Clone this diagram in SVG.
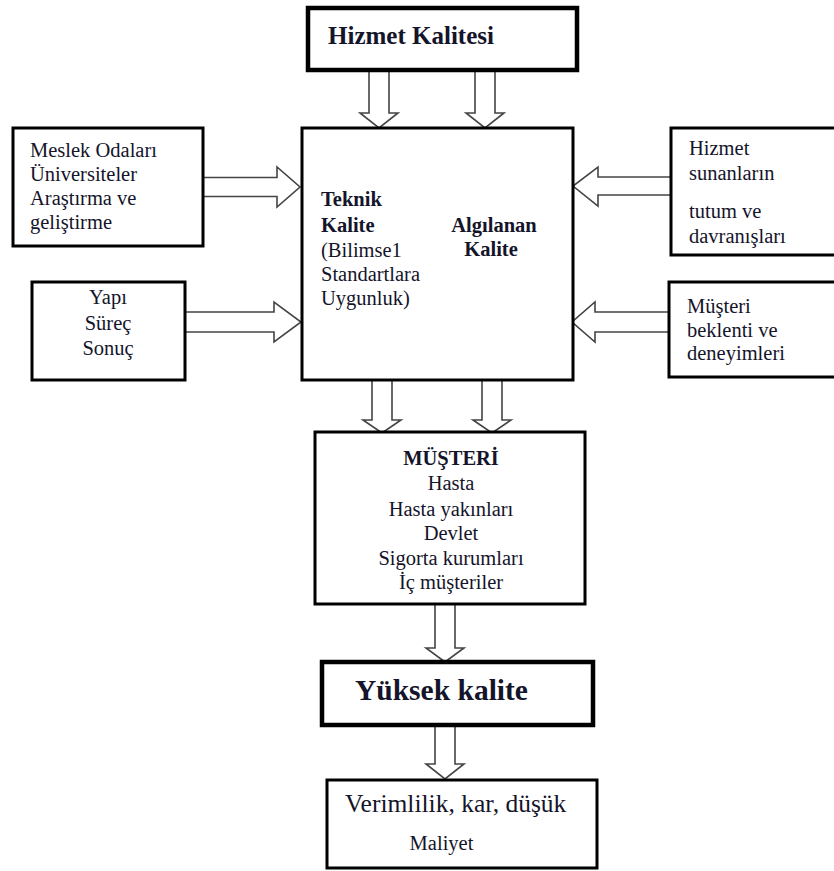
<svg xmlns="http://www.w3.org/2000/svg" width="834" height="871" viewBox="0 0 834 871" font-family="'Liberation Serif', 'Times New Roman', serif">
<style>
.box{fill:#fff;stroke:#000;stroke-width:3}
.thick{fill:#fff;stroke:#000;stroke-width:4.5}
.arr{fill:#fff;stroke:#444;stroke-width:1.6;stroke-linejoin:miter}
text{fill:#14142a}
.t{font-size:20.5px}
.b{font-size:20.5px;font-weight:bold}
.c{text-anchor:middle}
</style>
<rect width="834" height="871" fill="#fff"/>
<g id="connectors">
<polygon class="arr" points="369,71 389,71 389,113 398,113 379,128 360,113 369,113"/>
<polygon class="arr" points="475,71 495,71 495,113 504,113 485,128 466,113 475,113"/>
<polygon class="arr" points="203,177.5 277,177.5 277,167 300,187 277,207 277,196.5 203,196.5"/>
<polygon class="arr" points="185,312 274,312 274,302 301,322 274,342 274,332 185,332"/>
<polygon class="arr" points="671,177 598,177 598,167 573,186 598,206 598,195 671,195"/>
<polygon class="arr" points="669,312 595,312 595,302 572,322 595,342 595,332 669,332"/>
<polygon class="arr" points="372,380 392,380 392,420 401,420 382,433 363,420 372,420"/>
<polygon class="arr" points="482,380 502,380 502,420 511,420 492,433 473,420 482,420"/>
<polygon class="arr" points="435,604 455,604 455,648 464,648 445,662 426,648 435,648"/>
<polygon class="arr" points="435,725 455,725 455,764 464,764 445,779 426,764 435,764"/>
</g>
<g id="hizmet-kalitesi">
<rect class="thick" x="308" y="8" width="269" height="62"/>
<text x="328" y="44" font-size="25" font-weight="bold">Hizmet Kalitesi</text>
</g>
<g id="meslek">
<rect class="box" x="13" y="128" width="190" height="118"/>
<text class="t" x="30" y="157">Meslek Odaları</text>
<text class="t" x="30" y="181">Üniversiteler</text>
<text class="t" x="30" y="205">Araştırma ve</text>
<text class="t" x="30" y="229">geliştirme</text>
</g>
<g id="yapi">
<rect class="box" x="32" y="282" width="153" height="98"/>
<text class="t c" x="108" y="304">Yapı</text>
<text class="t c" x="108" y="330">Süreç</text>
<text class="t c" x="108" y="355">Sonuç</text>
</g>
<g id="hizmet-sunanlar">
<rect class="box" x="671" y="128" width="170" height="127"/>
<text class="t" x="689" y="155">Hizmet</text>
<text class="t" x="689" y="180">sunanların</text>
<text class="t" x="689" y="218">tutum ve</text>
<text class="t" x="689" y="243">davranışları</text>
</g>
<g id="musteri-beklenti">
<rect class="box" x="669" y="282" width="172" height="95"/>
<text class="t" x="687" y="313">Müşteri</text>
<text class="t" x="687" y="337">beklenti ve</text>
<text class="t" x="687" y="360">deneyimleri</text>
</g>
<g id="kalite">
<rect class="box" x="302" y="128" width="271" height="252"/>
<text class="b" x="321" y="206">Teknik</text>
<text class="b" x="321" y="232">Kalite</text>
<text class="t" x="321" y="257">(Bilimse1</text>
<text class="t" x="321" y="281">Standartlara</text>
<text class="t" x="321" y="305">Uygunluk)</text>
<text class="b c" x="494" y="232">Algılanan</text>
<text class="b c" x="491" y="256">Kalite</text>
</g>
<g id="musteri">
<rect class="box" x="315" y="432" width="270" height="172"/>
<text class="b c" x="451" y="465">MÜŞTERİ</text>
<text class="t c" x="451" y="490">Hasta</text>
<text class="t c" x="451" y="516">Hasta yakınları</text>
<text class="t c" x="451" y="540">Devlet</text>
<text class="t c" x="451" y="565">Sigorta kurumları</text>
<text class="t c" x="451" y="589">İç müşteriler</text>
</g>
<g id="yuksek-kalite">
<rect class="thick" x="322" y="662" width="271" height="63"/>
<text x="355" y="700" font-size="29.5" font-weight="bold">Yüksek kalite</text>
</g>
<g id="verimlilik">
<rect class="box" x="327" y="780" width="270" height="88"/>
<text x="345" y="812" font-size="25.5">Verimlilik, kar, düşük</text>
<text class="c" x="441.5" y="850" font-size="20.5">Maliyet</text>
</g>
</svg>
